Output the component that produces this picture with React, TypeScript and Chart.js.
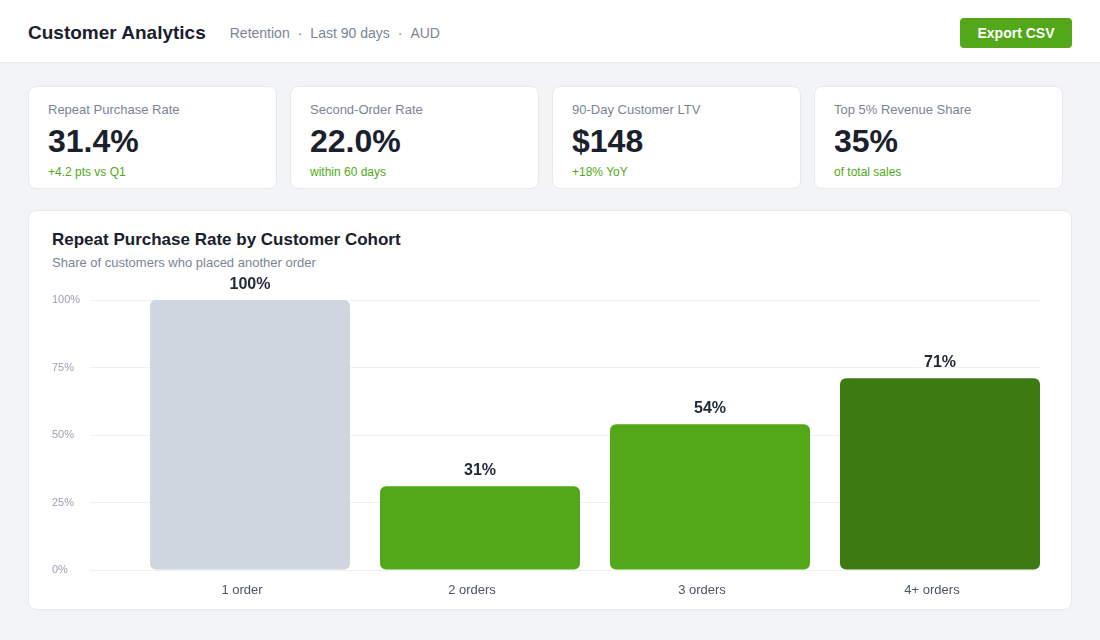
import React, { useEffect, useRef } from "react";
import { Chart, registerables } from "chart.js";

Chart.register(...registerables);

const categories = ["1 order", "2 orders", "3 orders", "4+ orders"];
const repeatRates = [100, 31, 54, 71];
const barColors = ["#cfd6e0", "#52a818", "#52a818", "#3d7a12"];
const yTickValues = [0, 25, 50, 75, 100];

const kpiLabels = ["Repeat Purchase Rate", "Second-Order Rate", "90-Day Customer LTV", "Top 5% Revenue Share"];
const kpiValues = ["31.4%", "22.0%", "$148", "35%"];
const kpiNotes = ["+4.2 pts vs Q1", "within 60 days", "+18% YoY", "of total sales"];

const FONT = "'Liberation Sans', Arial, Helvetica, sans-serif";

const valueLabelPlugin = {
  id: "valueLabels",
  afterDatasetsDraw(chart: any) {
    const ctx = chart.ctx;
    const meta = chart.getDatasetMeta(0);
    ctx.save();
    ctx.font = `bold 16px ${FONT}`;
    ctx.fillStyle = "#1f2937";
    ctx.textAlign = "center";
    ctx.textBaseline = "alphabetic";
    meta.data.forEach((bar: any, i: number) => {
      ctx.fillText(repeatRates[i] + "%", bar.x, bar.y - 11);
    });
    ctx.restore();
  },
};

function CohortChart() {
  const ref = useRef<HTMLCanvasElement | null>(null);
  useEffect(() => {
    if (!ref.current) return;
    const chart = new Chart(ref.current, {
      type: "bar",
      data: {
        datasets: [
          {
            data: repeatRates.map((v, i) => ({ x: i + 1, y: v })),
            backgroundColor: barColors,
            borderRadius: 6,
            borderSkipped: false,
            barPercentage: 200 / 230,
            categoryPercentage: 1,
          },
        ],
      },
      options: {
        animation: false,
        responsive: false,
        devicePixelRatio: 1,
        layout: { padding: { top: 28, left: 0, right: 0, bottom: 0 } },
        plugins: { legend: { display: false }, tooltip: { enabled: false } },
        scales: {
          x: {
            type: "linear",
            offset: false,
            min: 1 - 160 / 230,
            max: 4 + 100 / 230,
            grid: { display: false, offset: false },
            border: { display: false },
            afterFit(scale: any) {
              scale.height = 30;
            },
            ticks: {
              stepSize: 1,
              includeBounds: false,
              padding: 5,
              labelOffset: -8,
              color: "#4b5563",
              font: { size: 13, family: FONT },
              callback: (v: any) => (Number.isInteger(v) && v >= 1 && v <= categories.length ? categories[v - 1] : ""),
            },
          },
          y: {
            min: 0,
            max: 100,
            afterFit(scale: any) {
              scale.width = 38;
            },
            afterBuildTicks(scale: any) {
              scale.ticks = yTickValues.map((v) => ({ value: v }));
            },
            grid: { color: "#eef0f3", drawTicks: false, lineWidth: 1 },
            border: { display: false },
            ticks: {
              crossAlign: "far",
              padding: 0,
              color: "#9aa3b2",
              font: { size: 11, family: FONT },
              callback: (v: any) => v + "%",
            },
          },
        },
      },
      plugins: [valueLabelPlugin],
    } as any);
    return () => chart.destroy();
  }, []);
  return <canvas ref={ref} width={988} height={328} style={{ display: "block", width: 988, height: 328 }} />;
}

export default function App() {
  useEffect(() => {
    document.body.style.margin = "0";
  }, []);
  return (
    <div
      style={{
        position: "relative",
        width: 1100,
        height: 640,
        background: "#f3f4f6",
        fontFamily: FONT,
        overflow: "hidden",
      }}
    >
      <div
        style={{
          position: "absolute",
          left: 0,
          top: 0,
          width: 1100,
          height: 63,
          background: "#ffffff",
          borderBottom: "1px solid #e7e9ed",
          display: "flex",
          alignItems: "center",
          padding: "4px 28px 0 28px",
          boxSizing: "border-box",
        }}
      >
        <div style={{ fontSize: 19, fontWeight: 700, color: "#1a202c" }}>Customer Analytics</div>
        <div style={{ fontSize: 14, color: "#7b8494", marginLeft: 24 }}>
          <span>Retention</span>
          <span style={{ margin: "0 8px" }}>·</span>
          <span>Last 90 days</span>
          <span style={{ margin: "0 8px" }}>·</span>
          <span>AUD</span>
        </div>
        <div
          style={{
            marginLeft: "auto",
            width: 112,
            height: 30,
            background: "#52a818",
            borderRadius: 4,
            color: "#ffffff",
            fontSize: 14,
            fontWeight: 700,
            display: "flex",
            alignItems: "center",
            justifyContent: "center",
            marginTop: -1,
          }}
        >
          Export CSV
        </div>
      </div>

      {kpiLabels.map((label, i) => (
        <div
          key={label}
          style={{
            position: "absolute",
            top: 86,
            left: 28 + i * 262,
            width: 249,
            height: 103,
            boxSizing: "border-box",
            background: "#ffffff",
            border: "1px solid #e7e9ed",
            borderRadius: 8,
            padding: "14px 20px 0 19px",
          }}
        >
          <div style={{ fontSize: 13, lineHeight: "18px", color: "#7b8494" }}>{label}</div>
          <div style={{ fontSize: 32, lineHeight: "36px", fontWeight: 700, color: "#1a202c", marginTop: 4 }}>
            {kpiValues[i]}
          </div>
          <div style={{ fontSize: 12, lineHeight: "16px", color: "#52a818", marginTop: 5 }}>{kpiNotes[i]}</div>
        </div>
      ))}

      <div
        style={{
          position: "absolute",
          top: 210,
          left: 28,
          width: 1044,
          height: 400,
          boxSizing: "border-box",
          background: "#ffffff",
          border: "1px solid #e7e9ed",
          borderRadius: 8,
        }}
      >
        <div
          style={{
            position: "absolute",
            left: 23,
            top: 19,
            fontSize: 17,
            lineHeight: "20px",
            fontWeight: 700,
            color: "#1a202c",
          }}
        >
          Repeat Purchase Rate by Customer Cohort
        </div>
        <div style={{ position: "absolute", left: 23, top: 44, fontSize: 13, lineHeight: "16px", color: "#7b8494" }}>
          Share of customers who placed another order
        </div>
        <div style={{ position: "absolute", left: 23, top: 61 }}>
          <CohortChart />
        </div>
      </div>
    </div>
  );
}
